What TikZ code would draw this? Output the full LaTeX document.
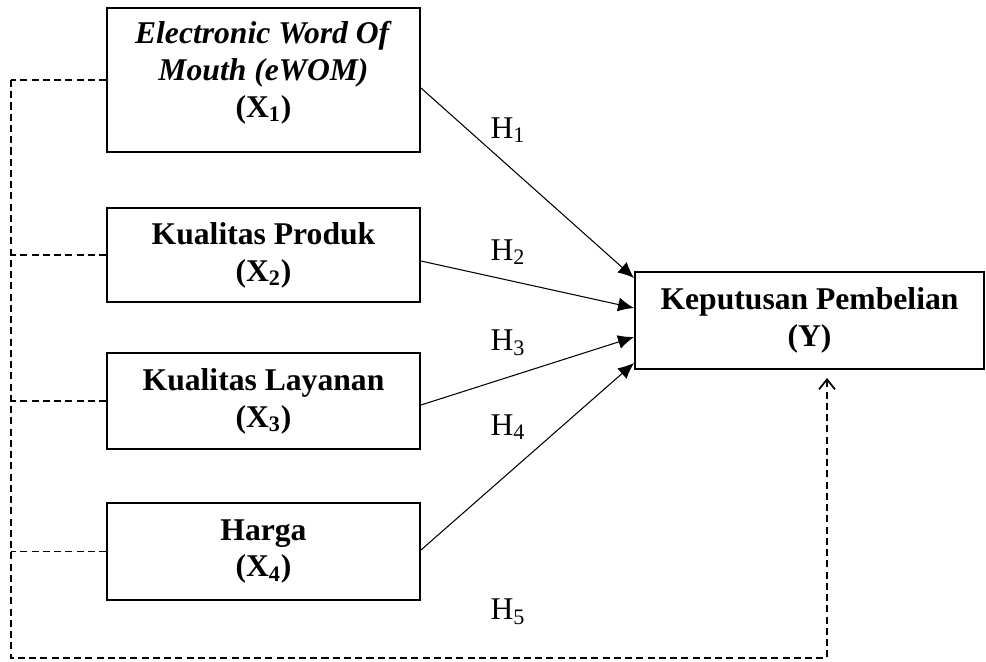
\documentclass[tikz,border=0pt]{standalone}
\usepackage{fontspec}
\setmainfont{Liberation Serif}
\usetikzlibrary{positioning, arrows.meta}

\begin{document}
\begin{tikzpicture}[
	varbox/.style={rectangle, draw, line width=1.1pt, minimum width=6.26cm, align=center, font=\fontsize{18}{21}\selectfont\bfseries},
	effect/.style={line width=0.6pt, -{Latex[length=3.2mm, width=2.8mm]}},
	covary/.style={line width=0.8pt, dash pattern=on 4pt off 2.4pt},
	hlabel/.style={font=\fontsize{18}{21}\selectfont}
]

\useasboundingbox (0,0) rectangle (19.72,-13.22);

\foreach \n/\yy/\hh/\txt in {
	1/-1.6/2.88/{\textit{Electronic Word Of}\\\textit{Mouth (eWOM)}\\(X\textsubscript{1})\\[-0.3cm]},
	2/-5.1/1.88/{Kualitas Produk\\(X\textsubscript{2})},
	3/-8.02/1.92/{Kualitas Layanan\\(X\textsubscript{3})},
	4/-11.03/1.94/{Harga\\(X\textsubscript{4})}}
	\node [varbox, minimum height=\hh cm] (x-\n) at (5.27, \yy) {\txt};

\node [varbox, minimum width=6.98cm, minimum height=1.94cm] (y) at (16.19, -6.41) {Keputusan Pembelian\\(Y)};

% direct effects
\foreach \i/\s/\e in {1/-0.16/0.85, 2/-0.12/0.25, 3/-0.08/-0.33, 4/0.03/-0.85}
	\draw [effect] ([yshift=\s cm]x-\i.east) -- ([yshift=\e cm]y.west);

\foreach \i/\yy in {1/-2.6, 2/-5.04, 3/-6.86, 4/-8.54, 5/-12.24}
	\node [hlabel] (h-\i) at (10.16, \yy) {H\textsubscript{\i}};

% simultaneous effect
\coordinate (corner) at (0.22, -13.16);
\coordinate (y-in) at ([xshift=0.35cm, yshift=-0.16cm]y.south);

\foreach \i in {1, ..., 4}
	\draw [covary] (x-\i.west) -- (x-\i.west -| corner);

\draw [covary, -{Straight Barb[length=2mm, width=3.2mm, line width=1pt]}] (x-1.west -| corner) -- (corner) -| (y-in);

\end{tikzpicture}
\end{document}
